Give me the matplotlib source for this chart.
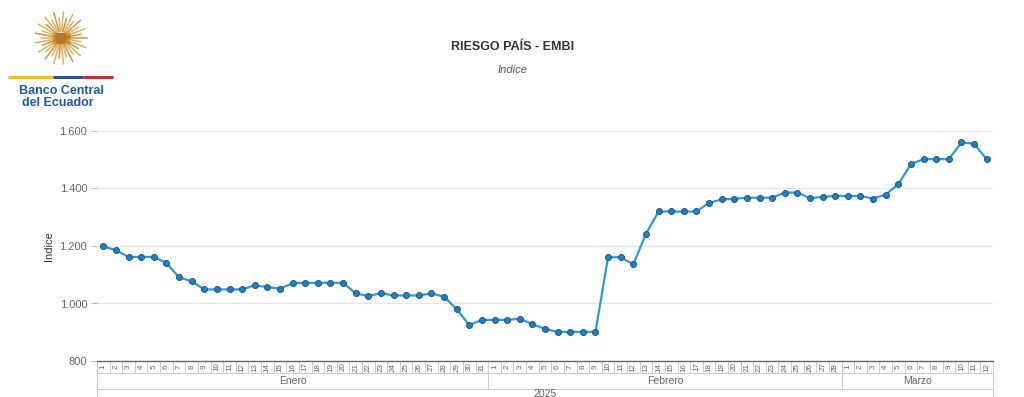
import numpy as np
import matplotlib
matplotlib.use("Agg")
import matplotlib.pyplot as plt
from matplotlib.transforms import blended_transform_factory
from matplotlib.patches import Rectangle

# ---------------- data ----------------
months = ["Enero", "Febrero", "Marzo"]
year_label = "2025"
jan_days = list(range(1, 32))
feb_days = list(range(1, 29))
mar_days = list(range(1, 13))
jan_vals = [1199, 1185, 1162, 1162, 1162, 1141, 1091, 1077, 1049, 1049, 1049, 1049,
            1063, 1057, 1052, 1070, 1072, 1072, 1072, 1072, 1035, 1026, 1036, 1028,
            1028, 1028, 1035, 1024, 980, 925, 943]
feb_vals = [943, 943, 947, 928, 912, 901, 901, 901, 901, 1161, 1161, 1136, 1242,
            1320, 1320, 1320, 1320, 1350, 1362, 1364, 1368, 1368, 1368, 1386, 1386,
            1366, 1371, 1374]
mar_vals = [1374, 1374, 1365, 1379, 1415, 1485, 1502, 1502, 1502, 1560, 1556, 1502]
yticks = [800, 1000, 1200, 1400, 1600]

day_labels = [str(d) for d in jan_days + feb_days + mar_days]
values = jan_vals + feb_vals + mar_vals
month_sizes = [len(jan_days), len(feb_days), len(mar_days)]

plt.rcParams['font.family'] = ['Liberation Sans', 'DejaVu Sans']

W, H = 1024, 397
fig = plt.figure(figsize=(W / 100, H / 100), dpi=100)

ax_l, ax_r, ax_t, ax_b = 97, 993, 131, 361
ax = fig.add_axes([ax_l / W, 1 - ax_b / H, (ax_r - ax_l) / W, (ax_b - ax_t) / H])
x = np.arange(len(values))
ax.plot(x, values, color="#2e9ad6", lw=1.6, zorder=3)
ax.scatter(x, values, s=19, color="#1f7fc0", edgecolor="#16507a", linewidth=0.6, zorder=4)
ax.set_xlim(-0.5, len(values) - 0.5)
ax.set_ylim(800, 1600)
ax.set_yticks(yticks)
ax.set_yticklabels([f"{v:,}".replace(",", ".") for v in yticks], fontsize=8, color="#666666")
ax.yaxis.grid(True, color="#e6e6e6", lw=0.9)
ax.set_axisbelow(True)
ax.tick_params(axis="y", length=4, color="#bbbbbb", pad=3, width=0.8)
ax.set_xticks([])
for s in ["top", "right", "left"]:
    ax.spines[s].set_visible(False)
ax.spines["bottom"].set_color("#666666")
ax.spines["bottom"].set_linewidth(1.0)
ax.set_ylabel("Indice", fontsize=8, color="#333333", labelpad=4)

# grouped category axis below
tr = blended_transform_factory(ax.transData, ax.transAxes)
ph = ax_b - ax_t
def ay(py):
    return (ax_b - py) / ph

grid_c = "#cccccc"
n = len(values)
# day row
for i in range(n + 1):
    ax.plot([i - 0.5, i - 0.5], [ay(361), ay(373)], color=grid_c, lw=0.7,
            transform=tr, clip_on=False)
for i, lab in enumerate(day_labels):
    ax.text(i, ay(367), lab, rotation=90, ha="center", va="center", fontsize=5.8,
            color="#666666", transform=tr, clip_on=False)
ax.plot([-0.5, n - 0.5], [ay(373), ay(373)], color=grid_c, lw=0.7, transform=tr, clip_on=False)
# month row
edges = np.concatenate([[0], np.cumsum(month_sizes)]) - 0.5
for e in edges:
    ax.plot([e, e], [ay(373), ay(389)], color=grid_c, lw=0.7, transform=tr, clip_on=False)
for k, m in enumerate(months):
    ax.text((edges[k] + edges[k + 1]) / 2, ay(381.5), m, ha="center", va="center",
            fontsize=7.5, color="#666666", transform=tr, clip_on=False)
ax.plot([-0.5, n - 0.5], [ay(389), ay(389)], color=grid_c, lw=0.7, transform=tr, clip_on=False)
# year row
for e in [edges[0], edges[-1]]:
    ax.plot([e, e], [ay(389), ay(400)], color=grid_c, lw=0.7, transform=tr, clip_on=False)
ax.text((edges[0] + edges[-1]) / 2, ay(394), year_label, ha="center", va="center",
        fontsize=7.5, color="#666666", transform=tr, clip_on=False)

# titles
fig.text(513 / W, 1 - 47 / H, "RIESGO PAÍS - EMBI", ha="center", va="center",
         fontsize=9, fontweight="bold", color="#333333")
fig.text(513 / W, 1 - 70 / H, "Indice", ha="center", va="center",
         fontsize=8, style="italic", color="#555555")

# logo
lax = fig.add_axes([0, 0, 1, 1], zorder=-1)
lax.set_xlim(0, W)
lax.set_ylim(H, 0)
lax.axis("off")
cx, cy = 61, 38
angs = np.linspace(0, 2 * np.pi, 34, endpoint=False)
for j, a in enumerate(angs):
    r = 26 if j % 2 == 0 else 20
    lax.plot([cx + 7 * np.cos(a), cx + r * np.cos(a)],
             [cy + 7 * np.sin(a), cy + r * np.sin(a)],
             color="#d9a441" if j % 3 else "#c0822a", lw=1.1, alpha=0.85)
lax.add_patch(Rectangle((cx - 8, cy - 5), 16, 10, color="#b8782a"))
lax.plot([8, 53], [77, 77], color="#f2c500", lw=2.2, solid_capstyle="butt")
lax.plot([53, 83], [77, 77], color="#1f4fa0", lw=2.2, solid_capstyle="butt")
lax.plot([83, 113], [77, 77], color="#d9262c", lw=2.2, solid_capstyle="butt")
lax.text(61, 91, "Banco Central", ha="center", va="center", fontsize=9,
         fontweight="bold", color="#1d5aa8")
lax.text(58, 103, "del Ecuador", ha="center", va="center", fontsize=9,
         fontweight="bold", color="#1d5aa8")

fig.savefig("out.png", dpi=100)
